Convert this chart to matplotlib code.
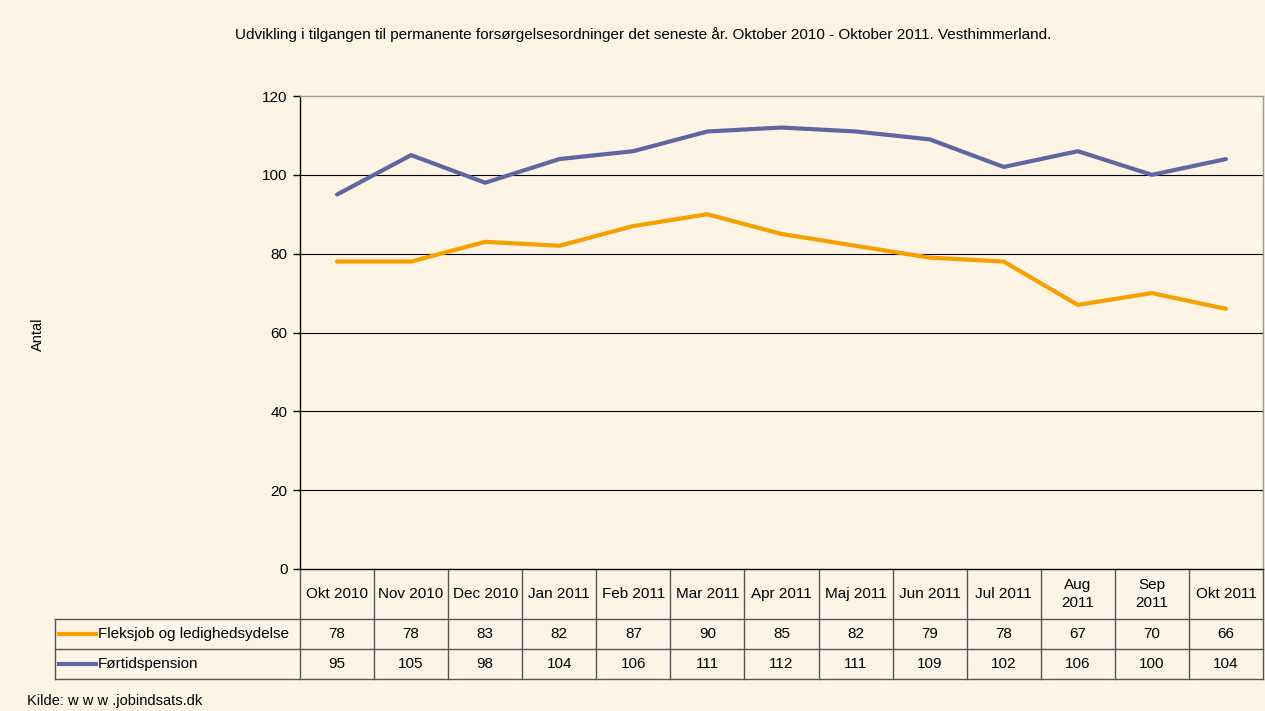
import matplotlib.pyplot as plt
from matplotlib.lines import Line2D
import matplotlib.transforms as mtransforms

# -------------------------------------------------------------------------
# Data
# -------------------------------------------------------------------------
months = ["Okt 2010", "Nov 2010", "Dec 2010", "Jan 2011", "Feb 2011", "Mar 2011",
          "Apr 2011", "Maj 2011", "Jun 2011", "Jul 2011", "Aug\n2011", "Sep\n2011", "Okt 2011"]
fleksjob = [78, 78, 83, 82, 87, 90, 85, 82, 79, 78, 67, 70, 66]
foertid = [95, 105, 98, 104, 106, 111, 112, 111, 109, 102, 106, 100, 104]
series_names = ["Fleksjob og ledighedsydelse", "Førtidspension"]
series_colors = ["#F5A000", "#5F66A0"]
yticks = [0, 20, 40, 60, 80, 100, 120]

plt.rcParams["font.family"] = ["Liberation Sans", "DejaVu Sans"]
BG = "#FDF4E6"
W, H = 1265, 711
FS = 11

def fx(px):
    return px / W

def fy(py):
    return 1 - py / H

fig = plt.figure(figsize=(W / 100, H / 100), dpi=100, facecolor=BG)
ax = fig.add_axes([fx(300), fy(569), fx(1263) - fx(300), fy(96) - fy(569)])
ax.set_facecolor(BG)

x = list(range(len(months)))
ax.plot(x, fleksjob, color=series_colors[0], lw=3, solid_capstyle="round", zorder=3)
ax.plot(x, foertid, color=series_colors[1], lw=3, solid_capstyle="round", zorder=3)

ax.set_xlim(-0.5, len(months) - 0.5)
ax.set_ylim(0, 120)
ax.set_yticks(yticks)
ax.tick_params(axis="y", labelsize=FS, length=5, width=1, color="black", pad=4)
ax.set_xticks([])
for y in yticks[1:-1]:
    ax.axhline(y, color="black", lw=0.8, zorder=1)
ax.spines["left"].set_color("black")
ax.spines["bottom"].set_color("black")
ax.spines["top"].set_color("#999999")
ax.spines["right"].set_color("#999999")
for s in ax.spines.values():
    s.set_linewidth(1)

# -------------------------------------------------------------------------
# Data table below the axes
# -------------------------------------------------------------------------
grid_col = "#555555"
tr = mtransforms.blended_transform_factory(ax.transData, fig.transFigure)
n = len(months)

# horizontal lines
for py in [619, 649, 679]:
    fig.add_artist(Line2D([fx(55), fx(1263)], [fy(py), fy(py)], color=grid_col, lw=1))
# vertical lines
fig.add_artist(Line2D([fx(55), fx(55)], [fy(619), fy(679)], color=grid_col, lw=1))
for i in range(n + 1):
    xi = i - 0.5
    ax.add_artist(Line2D([xi, xi], [fy(569), fy(679)], color=grid_col, lw=1,
                         transform=tr, clip_on=False))

for i, m in enumerate(months):
    ax.text(i, fy(594), m, transform=tr, ha="center", va="center", fontsize=FS,
            linespacing=1.45)
    ax.text(i, fy(634), str(fleksjob[i]), transform=tr, ha="center", va="center", fontsize=FS)
    ax.text(i, fy(664), str(foertid[i]), transform=tr, ha="center", va="center", fontsize=FS)

for k, py in enumerate([634, 664]):
    fig.add_artist(Line2D([fx(59), fx(96)], [fy(py), fy(py)], color=series_colors[k], lw=3))
    fig.text(fx(98), fy(py), series_names[k], ha="left", va="center", fontsize=FS)

# -------------------------------------------------------------------------
# Labels
# -------------------------------------------------------------------------
fig.text(fx(643), fy(35), "Udvikling i tilgangen til permanente forsørgelsesordninger det seneste år. "
         "Oktober 2010 - Oktober 2011. Vesthimmerland.", ha="center", va="center", fontsize=11)
fig.text(fx(38), fy(334), "Antal", rotation=90, ha="center", va="center", fontsize=10.5)
fig.text(fx(27), fy(701), "Kilde: w w w .jobindsats.dk", ha="left", va="center", fontsize=10.5)

fig.savefig("out.png", dpi=100, facecolor=BG)
